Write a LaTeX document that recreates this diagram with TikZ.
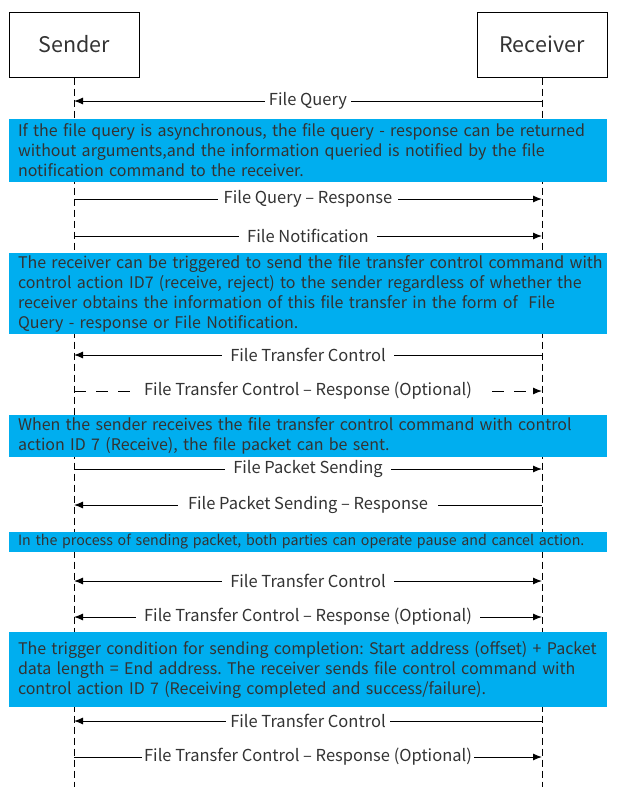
\documentclass[tikz,border=0pt]{standalone}
\usepackage{fontspec}
\setmainfont{Noto Sans CJK SC}
\usepackage{tikz}
\usetikzlibrary{arrows.meta}
\usetikzlibrary{calc}
\usepackage{xcolor}
\definecolor{notebg}{RGB}{0,174,239}
\definecolor{txt}{RGB}{51,51,51}
\frenchspacing

\tikzset{
  party/.style={draw,line width=1pt,minimum width=130pt,minimum height=65pt,font=\fontsize{21.5}{24}\selectfont,text=txt},
  lifeline/.style={line width=1pt,dash pattern=on 7pt off 4pt},
  note/.style={fill=notebg,minimum width=598pt,text width=580pt,inner xsep=9pt,inner ysep=0pt,
    align=left,font=\fontsize{16}{20}\selectfont,text=txt},
  msg/.style={line width=1pt,arrows={-Latex[length=9pt,width=7pt]}},
  both/.style={arrows={Latex[length=9pt,width=7pt]-Latex[length=9pt,width=7pt]}},
  lbl/.style={fill=white,inner xsep=8pt,inner ysep=1pt,font=\fontsize{16.5}{18}\selectfont,text=txt}
}

\begin{document}
\begin{tikzpicture}[x=1pt,y=-1pt]
  \useasboundingbox (0,0) rectangle (617,796);

  \node[party] (snd) at (74,44.5) {Sender};
  \node[party] (rcv) at (542,44.5) {Receiver};
  \coordinate (sndend) at (74,787);
  \coordinate (rcvend) at (542,787);
  \draw[lifeline] (snd.south) -- (sndend);
  \draw[lifeline] (rcv.south) -- (rcvend);

  % message rows on the two lifelines
  \foreach \n/\y in {1/101,2/199,3/236,4/355,5/391,6/469,7/505,8/581,9/617,10/721,11/757}{
    \coordinate (s\n) at (74,\y);
    \coordinate (r\n) at (542,\y);
  }

  \node[note,minimum height=63pt] (n1) at (308,150.5)
    {If the file query is asynchronous, the file query - response can be returned\\
     without arguments,and the information queried is notified by the file\\
     notification command to the receiver.};
  \draw[msg] (r1) -- node[lbl,inner xsep=4pt] (m1) {File Query} (s1);
  \draw[msg] (s2) -- node[lbl,inner xsep=6pt] (m2) {File Query -- Response} (r2);
  \draw[msg] (s3) -- node[lbl] (m3) {File Notification} (r3);

  \node[note,minimum height=81pt] (n2) at (308,293.5)
    {\mbox{The receiver can be triggered to send the file transfer control command with}\\
     control action ID7 (receive, reject) to the sender regardless of whether the\\
     receiver obtains the information of this file transfer in the form of~ File\\
     Query - response or File Notification.};
  \draw[msg] (r4) -- node[lbl] (m4) {File Transfer Control} (s4);
  \draw[msg,dash pattern=on 12pt off 10pt] (s5) -- node[lbl,inner xsep=10pt] (m5) {File Transfer Control -- Response (Optional)} (r5);

  \node[note,minimum height=42pt] (n3) at (308,436)
    {When the sender receives the file transfer control command with control\\
     action ID 7 (Receive), the file packet can be sent.};
  \draw[msg] (s6) -- node[lbl] (m6) {File Packet Sending} (r6);
  \draw[msg] (r7) -- node[lbl,inner xsep=10pt] (m7) {File Packet Sending -- Response} (s7);

  \node[note,minimum height=20pt,font=\fontsize{14.2}{16}\selectfont] (n4) at (308,542)
    {\mbox{In the process of sending packet, both parties can operate pause and cancel action.}};
  \draw[msg,both] (s8) -- node[lbl] (m8) {File Transfer Control} (r8);
  \draw[msg,both] (s9) -- node[lbl] (m9) {File Transfer Control -- Response (Optional)} (r9);

  \node[note,minimum height=75pt] (n5) at (308,669.5)
    {\mbox{The trigger condition for sending completion: Start address (offset) + Packet}\\
     data length = End address. The receiver sends file control command with\\
     control action ID 7 (Receiving completed and success/failure).};
  \draw[msg] (r10) -- node[lbl,inner xsep=4pt] (m10) {File Transfer Control} (s10);
  \draw[msg] (s11) -- node[lbl,inner xsep=2pt] (m11) {File Transfer Control -- Response (Optional)} (r11);
\end{tikzpicture}
\end{document}
